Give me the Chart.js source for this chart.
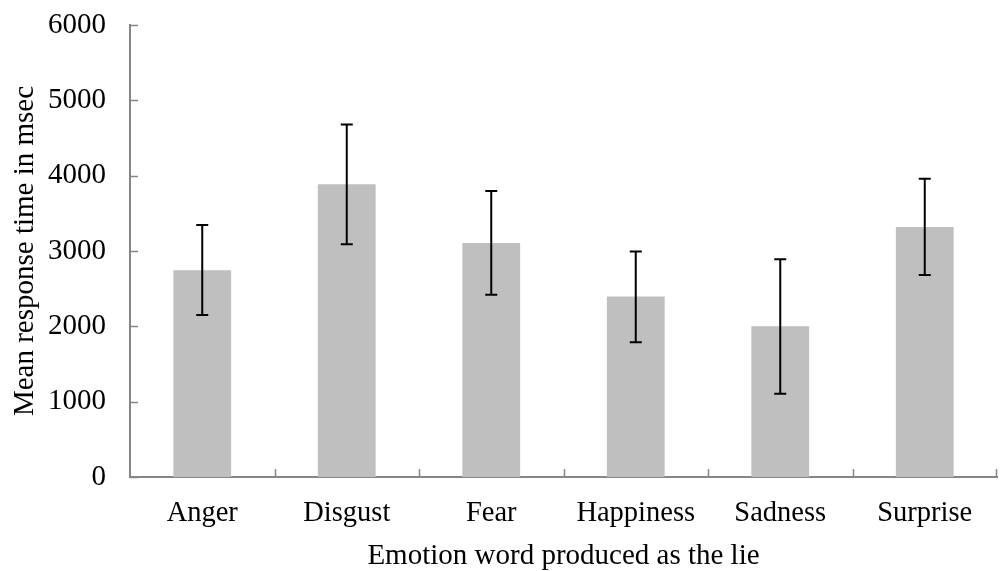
<!DOCTYPE html>
<html>
<head>
<meta charset="utf-8">
<script src="https://cdn.jsdelivr.net/npm/chart.js@4"></script>
<style>
html,body{margin:0;padding:0;background:#fff;}
#wrap{width:1000px;height:571px;}
</style>
</head>
<body>
<div id="wrap"><canvas id="c" width="1000" height="571"></canvas></div>
<script>
const categories = ["Anger","Disgust","Fear","Happiness","Sadness","Surprise"];
const meanRT = [2745, 3885, 3105, 2395, 2000, 3320];
const errLow = [2150, 3090, 2420, 1790, 1105, 2680];
const errHigh = [3345, 4680, 3795, 2995, 2890, 3960];
const yTicks = [0,1000,2000,3000,4000,5000,6000];

const FONT = "'Liberation Serif','Times New Roman',serif";
const AXIS = "#868686";

const errorBars = {
  id: 'errorBars',
  afterDatasetsDraw(chart) {
    const ctx = chart.ctx;
    const meta = chart.getDatasetMeta(0);
    const y = chart.scales.y;
    ctx.save();
    ctx.strokeStyle = "#000";
    ctx.lineWidth = 2;
    meta.data.forEach((bar, i) => {
      const x = bar.x;
      const yl = y.getPixelForValue(errLow[i]);
      const yh = y.getPixelForValue(errHigh[i]);
      ctx.beginPath();
      ctx.moveTo(x, yl); ctx.lineTo(x, yh);
      ctx.moveTo(x - 6, yl); ctx.lineTo(x + 6, yl);
      ctx.moveTo(x - 6, yh); ctx.lineTo(x + 6, yh);
      ctx.stroke();
    });
    ctx.restore();
  }
};

const innerTicks = {
  id: 'innerTicks',
  afterDraw(chart) {
    const ctx = chart.ctx;
    const y = chart.scales.y, x = chart.scales.x;
    const a = chart.chartArea;
    ctx.save();
    ctx.strokeStyle = AXIS;
    ctx.lineWidth = 1.5;
    ctx.beginPath();
    yTicks.forEach(v => {
      const py = Math.round(y.getPixelForValue(v)) + 0.5;
      ctx.moveTo(a.left, py); ctx.lineTo(a.left + 8, py);
    });
    const n = categories.length;
    for (let i = 1; i <= n; i++) {
      let px;
      if (i < n) px = (x.getPixelForValue(i - 1) + x.getPixelForValue(i)) / 2;
      else px = a.right - 1;
      px = Math.round(px) + 0.5;
      ctx.moveTo(px, a.bottom); ctx.lineTo(px, a.bottom - 8);
    }
    ctx.stroke();
    ctx.restore();
  }
};

new Chart(document.getElementById('c'), {
  type: 'bar',
  data: {
    labels: categories,
    datasets: [{
      data: meanRT,
      backgroundColor: "#BFBFBF",
      borderWidth: 0,
      barPercentage: 0.4,
      categoryPercentage: 1.0
    }]
  },
  options: {
    responsive: false,
    animation: false,
    devicePixelRatio: 1,
    layout: { padding: { top: 25, right: 3, left: 0, bottom: 0 } },
    plugins: {
      legend: { display: false },
      tooltip: { enabled: false }
    },
    scales: {
      x: {
        grid: { display: false, drawOnChartArea: false, drawTicks: false },
        border: { display: true, color: AXIS, width: 2 },
        ticks: { color: "#000", font: { family: FONT, size: 28.5 }, padding: 19, maxRotation: 0, autoSkip: false },
        title: { display: true, text: "Emotion word produced as the lie", color: "#000", font: { family: FONT, size: 29 }, padding: { top: 4, bottom: -3 } },
        afterFit(s) { s.height = 94; s.paddingLeft = 0; s.paddingRight = 0; }
      },
      y: {
        min: 0, max: 6000,
        afterBuildTicks(s) { s.ticks = yTicks.map(v => ({ value: v })); },
        grid: { display: false, drawOnChartArea: false, drawTicks: false },
        border: { display: true, color: AXIS, width: 2 },
        ticks: { color: "#000", font: { family: FONT, size: 29 }, padding: 24, callback: v => String(v) },
        title: { display: true, text: "Mean response time in msec", color: "#000", font: { family: FONT, size: 29 }, padding: { top: 8, bottom: 4 } },
        afterFit(s) { s.width = 130; s.paddingTop = 0; s.paddingBottom = 0; }
      }
    }
  },
  plugins: [errorBars, innerTicks]
});
</script>
</body>
</html>
